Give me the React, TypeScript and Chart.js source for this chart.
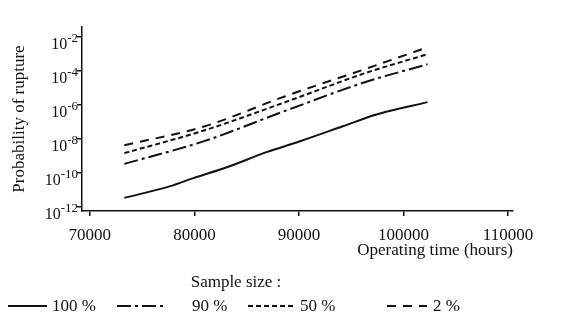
import React, { useEffect, useRef } from "react";
import { Chart, registerables } from "chart.js";

Chart.register(...registerables);

const FONT = "'Liberation Serif', 'Times New Roman', serif";
const INK = "#111";

// Operating time (hours)
const timeUpper = [73300, 81000, 88700, 96300, 102300];
const time100 = [73300, 77700, 79900, 83100, 86900, 90100, 94200, 97500, 102300];

// log10 of probability of rupture
const exp100 = [-11.45, -10.76, -10.29, -9.65, -8.76, -8.12, -7.24, -6.53, -5.82];
const exp90 = [-9.45, -8.1, -6.33, -4.65, -3.59];
const exp50 = [-8.82, -7.47, -5.82, -4.12, -3.0];
const exp2 = [-8.35, -7.24, -5.47, -3.88, -2.59];

const seriesLabels = ["100 %", "90 %", "50 %", "2 %"];
const seriesDashes = [[], [14, 4, 3, 4], [5, 3], [9, 7]];

const xTickValues = [70000, 80000, 90000, 100000, 110000];
const yTickExps = [-12, -10, -8, -6, -4, -2];

const xTitle = "Operating time (hours)";
const yTitle = "Probability of rupture";
const legendTitle = "Sample size :";

// legend layout (pixels on the canvas)
const legendLayout = [
  { x0: 7, x1: 47, tx: 52 },
  { x0: 117, x1: 163, tx: 192 },
  { x0: 248, x1: 293, tx: 300 },
  { x0: 387, x1: 427, tx: 433 },
];

const toPoints = (xs: number[], es: number[]) =>
  xs.map((x, i) => ({ x, y: Math.pow(10, es[i]) }));

export default function App() {
  const ref = useRef<HTMLCanvasElement | null>(null);

  useEffect(() => {
    if (!ref.current) return;
    const seriesData = [
      toPoints(time100, exp100),
      toPoints(timeUpper, exp90),
      toPoints(timeUpper, exp50),
      toPoints(timeUpper, exp2),
    ];

    const textPlugin = {
      id: "customText",
      afterDraw(chart: any) {
        const ctx = chart.ctx as CanvasRenderingContext2D;
        const ys = chart.scales.y;
        ctx.save();
        ctx.fillStyle = INK;
        // y tick labels as 10 with superscript exponent
        for (const e of yTickExps) {
          const py = ys.getPixelForValue(Math.pow(10, e));
          const sup = String(e);
          ctx.font = `13px ${FONT}`;
          const ws = ctx.measureText(sup).width;
          const right = 78;
          ctx.textAlign = "left";
          ctx.textBaseline = "alphabetic";
          ctx.fillText(sup, right - ws, py + 5);
          ctx.font = `16px ${FONT}`;
          ctx.textAlign = "right";
          ctx.fillText("10", right - ws, py + 12);
        }
        // legend
        ctx.font = `17px ${FONT}`;
        ctx.textAlign = "center";
        ctx.textBaseline = "middle";
        ctx.fillText(legendTitle, 236, 283);
        const ly = 306;
        legendLayout.forEach((it, i) => {
          ctx.strokeStyle = INK;
          ctx.lineWidth = 2;
          ctx.setLineDash(seriesDashes[i]);
          ctx.beginPath();
          ctx.moveTo(it.x0, ly);
          ctx.lineTo(it.x1, ly);
          ctx.stroke();
          ctx.setLineDash([]);
          ctx.textAlign = "left";
          ctx.fillText(seriesLabels[i], it.tx, ly + 1);
        });
        ctx.restore();
      },
    };

    const chart = new Chart(ref.current, {
      type: "line",
      data: {
        datasets: seriesLabels.map((label, i) => ({
          label,
          data: seriesData[i],
          borderColor: INK,
          borderWidth: 2,
          borderDash: seriesDashes[i],
          pointRadius: 0,
          cubicInterpolationMode: "monotone",
          fill: false,
        })),
      },
      options: {
        animation: false,
        responsive: false,
        layout: { padding: { left: 0, top: 27, right: 56, bottom: 59 } },
        plugins: {
          legend: { display: false },
          tooltip: { enabled: false },
        },
        scales: {
          x: {
            type: "linear",
            position: "bottom",
            min: 69250,
            max: 110480,
            afterBuildTicks: (s: any) => {
              s.ticks = xTickValues.map((v) => ({ value: v }));
            },
            afterFit: (s: any) => {
              s.height = 50;
            },
            ticks: {
              includeBounds: false,
              autoSkip: false,
              maxRotation: 0,
              padding: 9,
              color: INK,
              font: { family: FONT, size: 17 },
              callback: (v: any) => String(v),
            },
            grid: {
              display: true,
              drawOnChartArea: false,
              drawTicks: true,
              tickLength: 5,
              color: INK,
              lineWidth: 1.5,
            },
            border: { display: true, color: INK, width: 1.5 },
            title: {
              display: true,
              text: xTitle,
              align: "end",
              color: INK,
              font: { family: FONT, size: 17 },
              padding: { top: 0, bottom: 0 },
            },
          },
          y: {
            type: "logarithmic",
            min: Math.pow(10, -12.2),
            max: Math.pow(10, -1.4),
            afterBuildTicks: (s: any) => {
              s.ticks = yTickExps.map((e) => ({ value: Math.pow(10, e) }));
            },
            afterFit: (s: any) => {
              s.width = 82;
            },
            ticks: { display: false },
            grid: {
              display: true,
              drawOnChartArea: false,
              drawTicks: true,
              tickLength: 5,
              color: INK,
              lineWidth: 1.5,
            },
            border: { display: true, color: INK, width: 1.5 },
            title: {
              display: true,
              text: yTitle,
              color: INK,
              font: { family: FONT, size: 17 },
              padding: { top: 9, bottom: 0 },
            },
          },
        },
      },
      plugins: [textPlugin],
    } as any);

    return () => chart.destroy();
  }, []);

  return (
    <div style={{ position: "relative", width: 569, height: 320, margin: -8, background: "#fff" }}>
      <canvas ref={ref} width={569} height={320} style={{ display: "block", width: 569, height: 320 }} />
    </div>
  );
}
